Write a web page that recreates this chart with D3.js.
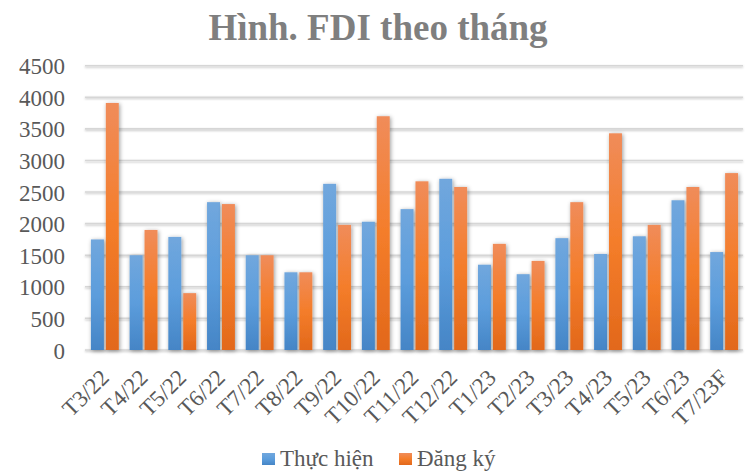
<!DOCTYPE html>
<html>
<head>
  <meta charset="utf-8">
  <title>FDI theo thang</title>
  <script src="https://d3js.org/d3.v7.min.js"></script>
  <style>
  body { margin: 0; background: white; }
  svg { display: block; }
  text { font-family: "Liberation Serif", "Times New Roman", serif; }
  .tick text { fill: #595959; font-size: 23px; }
  </style>
</head>
<body>
<div id='container'></div>
<script>

  // months on the x axis
  var months = ['T3/22', 'T4/22', 'T5/22', 'T6/22', 'T7/22', 'T8/22', 'T9/22', 'T10/22',
    'T11/22', 'T12/22', 'T1/23', 'T2/23', 'T3/23', 'T4/23', 'T5/23', 'T6/23', 'T7/23F']

  // FDI thuc hien (disbursed), trieu USD
  var thucHien = [1750, 1500, 1790, 2340, 1500, 1230, 2630, 2030, 2230, 2710, 1350, 1200, 1770, 1520, 1800, 2370, 1550]

  // FDI dang ky (registered)
  var dangKy = [3910, 1900, 900, 2310, 1500, 1230, 1980, 3700, 2670, 2580, 1680, 1410, 2340, 3430, 1980, 2580, 2800]

  var seriesNames = ['Thực hiện', 'Đăng ký']
  var yTicks = [0, 500, 1000, 1500, 2000, 2500, 3000, 3500, 4000, 4500]

  const width = 754
  const height = 472
  const plotL = 85, plotR = 743, plotT = 65.7, plotB = 350

  var svg = d3.select('#container')
    .append('svg')
    .attr('width', width)
    .attr('height', height)

  var defs = svg.append('defs')

  function grad(id, stops) {
    var g = defs.append('linearGradient')
      .attr('id', id)
      .attr('x1', 0).attr('y1', 0).attr('x2', 0).attr('y2', 1)
    stops.forEach(s => g.append('stop').attr('offset', s[0]).attr('stop-color', s[1]))
  }
  grad('gBlue', [[0, '#71a7dd'], [0.5, '#5c9ddc'], [1, '#4585c6']])
  grad('gOrange', [[0, '#f08c5a'], [0.5, '#f47d2a'], [1, '#e2681b']])

  var shadow = defs.append('filter').attr('id', 'shadow')
    .attr('x', '-50%').attr('y', '-10%').attr('width', '200%').attr('height', '120%')
  shadow.append('feDropShadow')
    .attr('dx', 1).attr('dy', 1).attr('stdDeviation', 2.2)
    .attr('flood-color', '#000').attr('flood-opacity', 0.4)

  var lineShadow = defs.append('filter').attr('id', 'lshadow')
    .attr('filterUnits', 'userSpaceOnUse')
    .attr('x', 0).attr('y', 0).attr('width', width).attr('height', height)
  lineShadow.append('feDropShadow')
    .attr('dx', 0).attr('dy', 1).attr('stdDeviation', 0.8)
    .attr('flood-color', '#000').attr('flood-opacity', 0.25)

  var xScale = d3.scaleBand()
    .domain(months)
    .range([plotL, plotR])

  var yScale = d3.scaleLinear()
    .domain([0, 4500])
    .range([plotB, plotT])

  // title
  svg.append('text')
    .attr('x', width / 2 + 1)
    .attr('y', 40)
    .attr('text-anchor', 'middle')
    .style('font-size', '37px')
    .style('font-weight', 'bold')
    .style('fill', '#7f7f7f')
    .text('Hình. FDI theo tháng')

  // gridlines
  svg.append('g')
    .selectAll('line')
    .data(yTicks)
    .enter()
    .append('line')
    .attr('x1', plotL).attr('x2', plotR)
    .attr('y1', d => yScale(d)).attr('y2', d => yScale(d))
    .style('stroke', '#d6d6d6')
    .style('stroke-width', 1.6)
    .attr('filter', 'url(#lshadow)')

  // y axis labels
  var yAxis = d3.axisLeft(yScale)
    .tickValues(yTicks)
    .tickFormat(d3.format('d'))
    .tickSize(0)
    .tickPadding(0)

  svg.append('g')
    .attr('transform', 'translate(65,0)')
    .call(yAxis)
    .call(g => g.select('.domain').remove())
    .call(g => g.attr('font-family', null).attr('font-size', null))
    .selectAll('text')
    .attr('dy', '0.35em')

  // bars
  var step = xScale.step()
  var barW = step * 0.335
  var gap = step * 0.05
  var series = [thucHien, dangKy]
  var fills = ['url(#gBlue)', 'url(#gOrange)']

  series.forEach((vals, si) => {
    svg.append('g')
      .selectAll('rect')
      .data(vals)
      .enter()
      .append('rect')
      .attr('x', (d, i) => {
        var c = xScale(months[i]) + step / 2 + 0.5
        return si === 0 ? c - gap / 2 - barW : c + gap / 2
      })
      .attr('y', d => yScale(d))
      .attr('width', barW)
      .attr('height', d => plotB - yScale(d))
      .style('fill', fills[si])
      .attr('filter', 'url(#shadow)')
  })

  // x labels rotated
  svg.append('g')
    .selectAll('text')
    .data(months)
    .enter()
    .append('text')
    .attr('transform', d => 'translate(' + (xScale(d) + step / 2 + 6) + ',379) rotate(-45)')
    .attr('text-anchor', 'end')
    .style('font-size', '23px')
    .style('fill', '#595959')
    .text(d => d)

  // legend
  var legend = svg.append('g').attr('transform', 'translate(262,453)')
  var lx = [0, 137]
  seriesNames.forEach((name, i) => {
    legend.append('rect')
      .attr('x', lx[i]).attr('y', 0)
      .attr('width', 13).attr('height', 12)
      .style('fill', fills[i])
    legend.append('text')
      .attr('x', lx[i] + 18).attr('y', 13)
      .style('font-size', '23px')
      .style('fill', '#595959')
      .text(name)
  })

</script>
</body>
</html>
